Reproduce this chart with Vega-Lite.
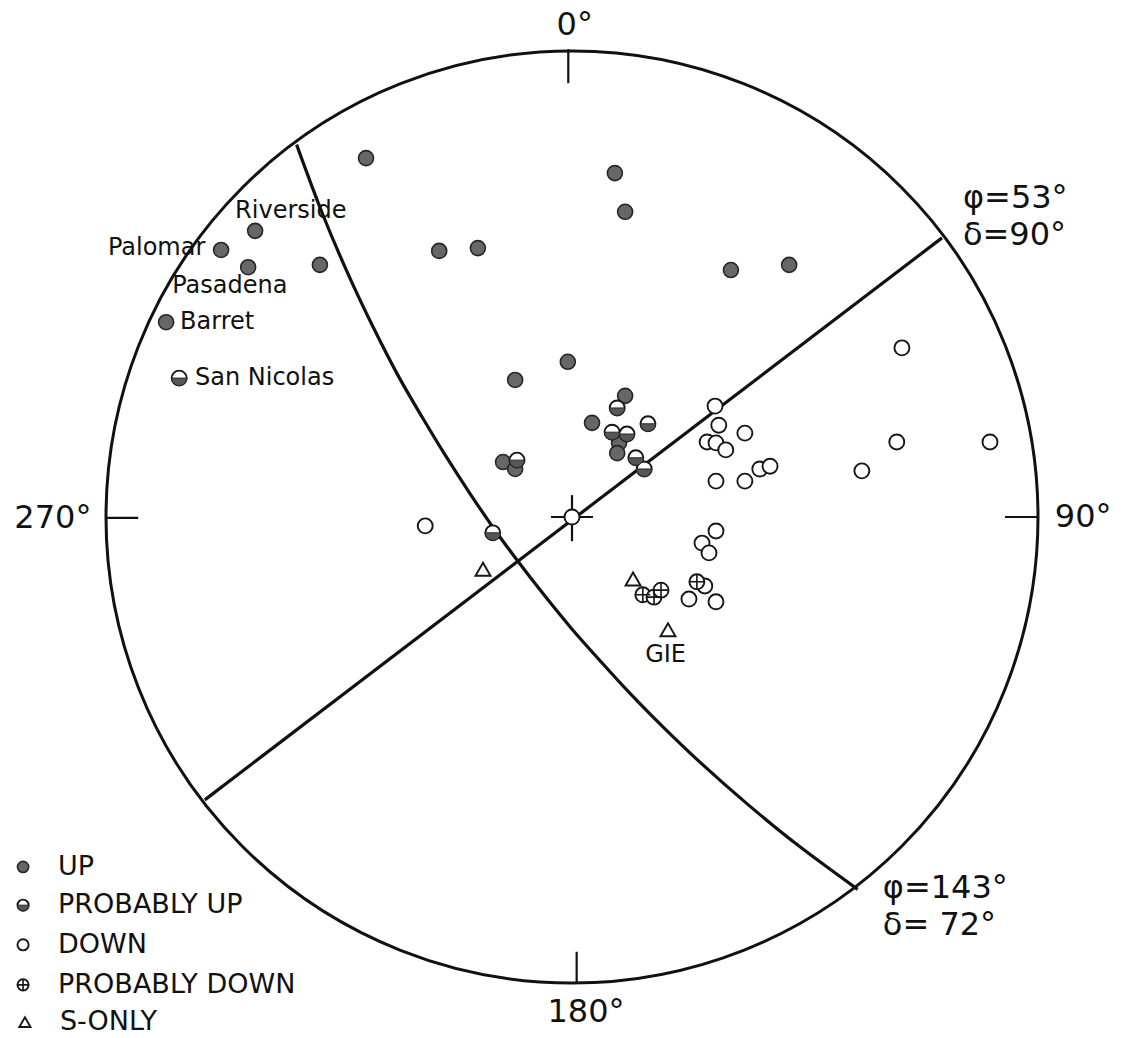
{
  "$schema": "https://vega.github.io/schema/vega-lite/v6.json",
  "width": 1131,
  "height": 1038,
  "autosize": {"type": "fit", "contains": "padding"},
  "padding": 0,
  "background": "white",
  "config": {"view": {"stroke": null}, "text": {"font": "DejaVu Sans", "color": "#111"}},
  "datasets": {
    "frame": [{"x": 0, "y": 0}],
    "ticks": [
      {"x": -0.008, "y": 1.004, "x2": -0.008, "y2": 0.931},
      {"x": -1.0, "y": -0.002, "x2": -0.931, "y2": -0.002},
      {"x": 0.929, "y": 0.0, "x2": 1.0, "y2": 0.0},
      {"x": 0.01, "y": -0.933, "x2": 0.01, "y2": -1.0},
      {"x": -0.045, "y": 0.0, "x2": 0.045, "y2": 0.0},
      {"x": 0.0, "y": 0.047, "x2": 0.0, "y2": -0.052}
    ],
    "planes": [
      {"plane": "A", "seq": 0, "x": 0.794, "y": 0.599},
      {"plane": "A", "seq": 1, "x": -0.788, "y": -0.607},
      {"plane": "B", "seq": 0, "x": 0.613, "y": -0.799},
      {"plane": "B", "seq": 1, "x": 0.483, "y": -0.703},
      {"plane": "B", "seq": 2, "x": 0.374, "y": -0.614},
      {"plane": "B", "seq": 3, "x": 0.281, "y": -0.532},
      {"plane": "B", "seq": 4, "x": 0.199, "y": -0.454},
      {"plane": "B", "seq": 5, "x": 0.125, "y": -0.379},
      {"plane": "B", "seq": 6, "x": 0.059, "y": -0.307},
      {"plane": "B", "seq": 7, "x": -0.003, "y": -0.237},
      {"plane": "B", "seq": 8, "x": -0.061, "y": -0.166},
      {"plane": "B", "seq": 9, "x": -0.116, "y": -0.095},
      {"plane": "B", "seq": 10, "x": -0.169, "y": -0.023},
      {"plane": "B", "seq": 11, "x": -0.220, "y": 0.052},
      {"plane": "B", "seq": 12, "x": -0.271, "y": 0.131},
      {"plane": "B", "seq": 13, "x": -0.322, "y": 0.215},
      {"plane": "B", "seq": 14, "x": -0.374, "y": 0.305},
      {"plane": "B", "seq": 15, "x": -0.426, "y": 0.406},
      {"plane": "B", "seq": 16, "x": -0.479, "y": 0.518},
      {"plane": "B", "seq": 17, "x": -0.534, "y": 0.647},
      {"plane": "B", "seq": 18, "x": -0.591, "y": 0.799}
    ],
    "obs": [
      {"kind": "up", "set": "obs", "x": -0.442, "y": 0.770},
      {"kind": "up", "set": "obs", "x": 0.092, "y": 0.738},
      {"kind": "up", "set": "obs", "x": 0.114, "y": 0.655},
      {"kind": "up", "set": "obs", "x": -0.285, "y": 0.571},
      {"kind": "up", "set": "obs", "x": -0.202, "y": 0.577},
      {"kind": "up", "set": "obs", "x": -0.541, "y": 0.541},
      {"kind": "up", "set": "obs", "x": 0.341, "y": 0.530},
      {"kind": "up", "set": "obs", "x": 0.466, "y": 0.541},
      {"kind": "up", "set": "obs", "x": -0.009, "y": 0.333},
      {"kind": "up", "set": "obs", "x": -0.122, "y": 0.294},
      {"kind": "up", "set": "obs", "x": 0.114, "y": 0.260},
      {"kind": "up", "set": "obs", "x": 0.043, "y": 0.202},
      {"kind": "up", "set": "obs", "x": 0.101, "y": 0.159},
      {"kind": "up", "set": "obs", "x": 0.097, "y": 0.137},
      {"kind": "up", "set": "obs", "x": -0.148, "y": 0.118},
      {"kind": "up", "set": "obs", "x": -0.122, "y": 0.103},
      {"kind": "up", "set": "obs", "x": -0.680, "y": 0.614},
      {"kind": "up", "set": "obs", "x": -0.753, "y": 0.573},
      {"kind": "up", "set": "obs", "x": -0.695, "y": 0.536},
      {"kind": "up", "set": "obs", "x": -0.871, "y": 0.418},
      {"kind": "pu", "set": "obs", "x": 0.097, "y": 0.234},
      {"kind": "pu", "set": "obs", "x": 0.163, "y": 0.200},
      {"kind": "pu", "set": "obs", "x": 0.086, "y": 0.182},
      {"kind": "pu", "set": "obs", "x": 0.118, "y": 0.178},
      {"kind": "pu", "set": "obs", "x": -0.118, "y": 0.122},
      {"kind": "pu", "set": "obs", "x": 0.137, "y": 0.127},
      {"kind": "pu", "set": "obs", "x": 0.155, "y": 0.103},
      {"kind": "pu", "set": "obs", "x": -0.170, "y": -0.034},
      {"kind": "pu", "set": "obs", "x": -0.843, "y": 0.298},
      {"kind": "down", "set": "obs", "x": 0.0, "y": 0.0},
      {"kind": "down", "set": "obs", "x": 0.307, "y": 0.238},
      {"kind": "down", "set": "obs", "x": 0.315, "y": 0.197},
      {"kind": "down", "set": "obs", "x": 0.290, "y": 0.161},
      {"kind": "down", "set": "obs", "x": 0.309, "y": 0.159},
      {"kind": "down", "set": "obs", "x": 0.330, "y": 0.144},
      {"kind": "down", "set": "obs", "x": 0.371, "y": 0.180},
      {"kind": "down", "set": "obs", "x": 0.403, "y": 0.103},
      {"kind": "down", "set": "obs", "x": 0.425, "y": 0.109},
      {"kind": "down", "set": "obs", "x": 0.371, "y": 0.077},
      {"kind": "down", "set": "obs", "x": 0.309, "y": 0.077},
      {"kind": "down", "set": "obs", "x": 0.708, "y": 0.363},
      {"kind": "down", "set": "obs", "x": 0.697, "y": 0.161},
      {"kind": "down", "set": "obs", "x": 0.897, "y": 0.161},
      {"kind": "down", "set": "obs", "x": 0.622, "y": 0.099},
      {"kind": "down", "set": "obs", "x": 0.309, "y": -0.030},
      {"kind": "down", "set": "obs", "x": 0.279, "y": -0.056},
      {"kind": "down", "set": "obs", "x": 0.294, "y": -0.077},
      {"kind": "down", "set": "obs", "x": -0.315, "y": -0.019},
      {"kind": "down", "set": "obs", "x": 0.285, "y": -0.148},
      {"kind": "down", "set": "obs", "x": 0.251, "y": -0.176},
      {"kind": "down", "set": "obs", "x": 0.309, "y": -0.182},
      {"kind": "pd", "set": "obs", "x": 0.152, "y": -0.167},
      {"kind": "pd", "set": "obs", "x": 0.176, "y": -0.172},
      {"kind": "pd", "set": "obs", "x": 0.191, "y": -0.157},
      {"kind": "pd", "set": "obs", "x": 0.268, "y": -0.139},
      {"kind": "s", "set": "obs", "x": -0.191, "y": -0.112},
      {"kind": "s", "set": "obs", "x": 0.131, "y": -0.133},
      {"kind": "s", "set": "obs", "x": 0.206, "y": -0.242},
      {"kind": "up", "set": "key", "x": -1.178, "y": -0.751, "label": "UP"},
      {"kind": "pu", "set": "key", "x": -1.178, "y": -0.833, "label": "PROBABLY UP"},
      {"kind": "down", "set": "key", "x": -1.178, "y": -0.918, "label": "DOWN"},
      {"kind": "pd", "set": "key", "x": -1.178, "y": -1.004, "label": "PROBABLY DOWN"},
      {"kind": "s", "set": "key", "x": -1.174, "y": -1.084, "label": "S-ONLY"}
    ],
    "stations": [
      {"label": "Riverside", "x": -0.723, "y": 0.657},
      {"label": "Palomar", "x": -0.996, "y": 0.577},
      {"label": "Pasadena", "x": -0.858, "y": 0.496},
      {"label": "Barret", "x": -0.841, "y": 0.418},
      {"label": "San Nicolas", "x": -0.809, "y": 0.298},
      {"label": "GIE", "x": 0.157, "y": -0.296}
    ],
    "azimuths": [
      {"label": "0°", "x": 0.006, "y": 1.056},
      {"label": "270°", "x": -1.114, "y": -0.002},
      {"label": "90°", "x": 1.097, "y": 0.0},
      {"label": "180°", "x": 0.030, "y": -1.062}
    ],
    "planeNotes": [
      {"label": "φ=53°", "x": 0.839, "y": 0.685},
      {"label": "δ=90°", "x": 0.839, "y": 0.605},
      {"label": "φ=143°", "x": 0.667, "y": -0.796},
      {"label": "δ= 72°", "x": 0.667, "y": -0.876}
    ]
  },
  "encoding": {
    "x": {"field": "x", "type": "quantitative", "scale": {"domain": [-1.2275, 1.1996], "nice": false, "zero": false}, "axis": null},
    "y": {"field": "y", "type": "quantitative", "scale": {"domain": [-1.118, 1.1094], "nice": false, "zero": false}, "axis": null}
  },
  "layer": [
    {
      "data": {"name": "frame"},
      "mark": {"type": "point", "shape": "circle", "size": 868624, "filled": false, "stroke": "#111", "strokeWidth": 3, "opacity": 1}
    },
    {
      "data": {"name": "ticks"},
      "mark": {"type": "rule", "color": "#111", "strokeWidth": 2.2},
      "encoding": {"x2": {"field": "x2"}, "y2": {"field": "y2"}}
    },
    {
      "data": {"name": "planes"},
      "mark": {"type": "line", "color": "#111", "strokeWidth": 3.2, "interpolate": "catmull-rom"},
      "encoding": {
        "detail": {"field": "plane", "type": "nominal"},
        "order": {"field": "seq", "type": "quantitative"}
      }
    },
    {
      "data": {"name": "obs"},
      "transform": [{"filter": "datum.kind === 'up'"}],
      "mark": {"type": "point", "shape": "circle", "filled": true, "fill": "#676767", "stroke": "#262626", "strokeWidth": 1.6, "opacity": 1},
      "encoding": {"size": {"field": "set", "type": "nominal", "scale": {"domain": ["obs", "key"], "range": [225, 125]}, "legend": null}}
    },
    {
      "data": {"name": "obs"},
      "transform": [{"filter": "datum.kind !== 'up'"}],
      "mark": {"type": "point", "shape": "circle", "filled": true, "fill": "white", "stroke": "#161616", "strokeWidth": 1.9, "opacity": 1},
      "encoding": {
        "size": {"field": "set", "type": "nominal", "scale": {"domain": ["obs", "key"], "range": [225, 125]}, "legend": null},
        "shape": {"field": "kind", "type": "nominal", "scale": {"domain": ["pu", "down", "pd", "s"], "range": ["circle", "circle", "circle", "triangle-up"]}, "legend": null}
      }
    },
    {
      "data": {"name": "obs"},
      "transform": [{"filter": "datum.kind === 'pu'"}],
      "mark": {"type": "point", "shape": "M -1 0 A 1 1 0 0 0 1 0 Z", "filled": true, "fill": "#575757", "stroke": "#262626", "strokeWidth": 1, "opacity": 1},
      "encoding": {"size": {"field": "set", "type": "nominal", "scale": {"domain": ["obs", "key"], "range": [225, 125]}, "legend": null}}
    },
    {
      "data": {"name": "obs"},
      "transform": [{"filter": "datum.kind === 'pd'"}],
      "mark": {"type": "point", "shape": "M -1 0 L 1 0 M 0 -1 L 0 1", "filled": false, "stroke": "#161616", "strokeWidth": 1.6, "opacity": 1},
      "encoding": {"size": {"field": "set", "type": "nominal", "scale": {"domain": ["obs", "key"], "range": [225, 125]}, "legend": null}}
    },
    {
      "data": {"name": "obs"},
      "transform": [{"filter": "datum.set === 'key'"}],
      "mark": {"type": "text", "align": "left", "baseline": "middle", "dx": 35, "fontSize": 27},
      "encoding": {"text": {"field": "label"}}
    },
    {
      "data": {"name": "stations"},
      "mark": {"type": "text", "align": "left", "baseline": "middle", "fontSize": 24},
      "encoding": {"text": {"field": "label"}}
    },
    {
      "data": {"name": "azimuths"},
      "mark": {"type": "text", "align": "center", "baseline": "middle", "fontSize": 32},
      "encoding": {"text": {"field": "label"}}
    },
    {
      "data": {"name": "planeNotes"},
      "mark": {"type": "text", "align": "left", "baseline": "middle", "fontSize": 32},
      "encoding": {"text": {"field": "label"}}
    }
  ]
}
